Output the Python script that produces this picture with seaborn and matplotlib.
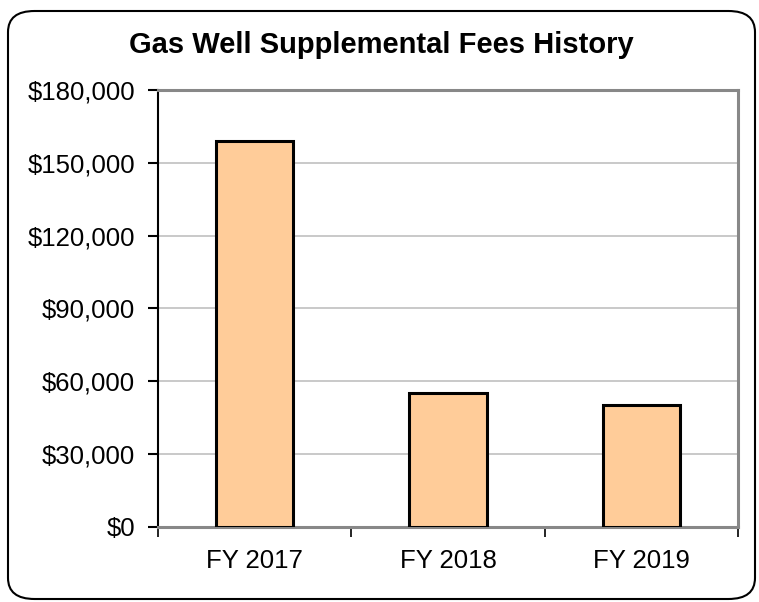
import matplotlib
matplotlib.use("Agg")
import matplotlib.pyplot as plt
from matplotlib.patches import FancyBboxPatch
from matplotlib.ticker import FuncFormatter, MultipleLocator
import seaborn as sns
import pandas as pd

categories = ["FY 2017", "FY 2018", "FY 2019"]
fees = [159000, 55000, 50000]

sns.set_theme(style="white")
plt.rcParams["font.family"] = ["Liberation Sans", "DejaVu Sans"]

df = pd.DataFrame({"year": categories, "fees": fees})

fig = plt.figure(figsize=(7.59, 6.02), dpi=100)
ax = fig.add_axes([0.2082, 0.1254, 0.9723 - 0.2082, 0.8497 - 0.1254])

sns.barplot(data=df, x="year", y="fees", color="#FFCC99", width=0.4,
            edgecolor="black", linewidth=2.2, saturation=1, ax=ax, zorder=3)

ax.set_ylim(0, 180000)
ax.set_xlim(-0.5, 2.5)
ax.yaxis.set_major_locator(MultipleLocator(30000))
ax.yaxis.set_major_formatter(FuncFormatter(lambda v, _: f"${v:,.0f}"))
ax.grid(axis="y", color="#C0C0C0", linewidth=1.2, zorder=0)
ax.set_axisbelow(True)
ax.set_xlabel("")
ax.set_ylabel("")

for side in ("top", "right", "bottom"):
    ax.spines[side].set_color("#888888")
    ax.spines[side].set_linewidth(2.2)
ax.spines["left"].set_color("black")
ax.spines["left"].set_linewidth(1.5)

# x ticks sit at category boundaries
ax.set_xticks([-0.5, 0.5, 1.5, 2.5], minor=False)
ax.set_xticklabels([])
ax.set_xticks([0, 1, 2], minor=True)
ax.set_xticklabels(categories, minor=True)
ax.tick_params(axis="x", which="major", direction="out", length=7, width=1.2,
               color="black", bottom=True)
ax.tick_params(axis="x", which="minor", length=0, pad=16, labelsize=18.5,
               labelcolor="black")
ax.tick_params(axis="y", direction="out", length=7, width=1.5, color="black",
               left=True, labelsize=18.5, labelcolor="black", pad=9.5)

fig.text(0.502, 0.925, "Gas Well Supplemental Fees History", ha="center",
         va="center", fontsize=21, fontweight="bold", color="black")

frame = FancyBboxPatch((8 / 759, 3 / 602), 747 / 759, 588 / 602,
                       boxstyle="round,pad=0,rounding_size=0.035",
                       transform=fig.transFigure, facecolor="none",
                       edgecolor="black", linewidth=1.5, zorder=10)
fig.patches.append(frame)

fig.savefig("out.png", dpi=100)
